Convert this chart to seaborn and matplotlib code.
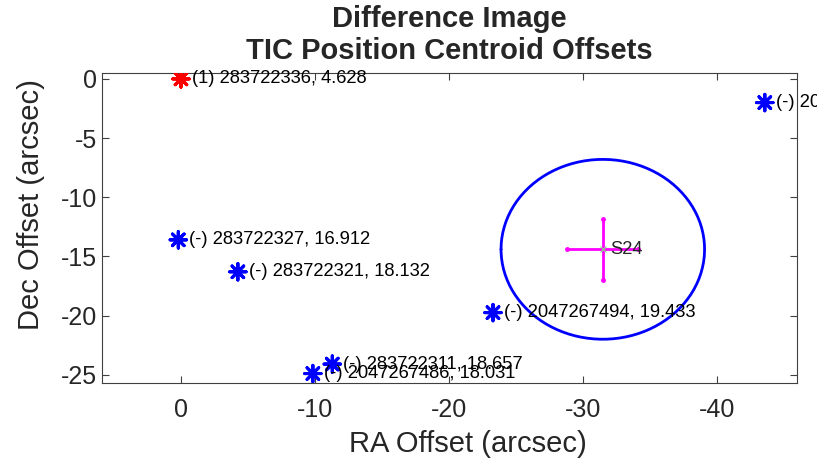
import numpy as np
import pandas as pd
import matplotlib
matplotlib.use("Agg")
import matplotlib.pyplot as plt
import seaborn as sns

# sources TIC (offsets en arcsec)
tic_labels = ["(1) 283722336, 4.628", "(-) 283722327, 16.912", "(-) 283722321, 18.132",
              "(-) 283722311, 18.657", "(-) 2047267486, 18.031", "(-) 2047267494, 19.433",
              "(-) 2047267503, 20.118"]
tic_ra = [0.0, 0.2, -4.25, -11.3, -9.85, -23.3, -43.6]
tic_dec = [0.0, -13.6, -16.3, -24.1, -24.9, -19.75, -2.0]
tic_kind = ["target", "other", "other", "other", "other", "other", "other"]

# centroide du secteur 24
sector_labels = ["S24"]
cent_ra = [-31.5]
cent_dec = [-14.4]
cent_err_ra = [2.65]
cent_err_dec = [2.6]
circle_radius = 7.6

df = pd.DataFrame({"ra": tic_ra, "dec": tic_dec, "kind": tic_kind, "label": tic_labels})

sns.set_theme(style="ticks")
plt.rcParams['font.family'] = ['Liberation Sans', 'DejaVu Sans']
plt.rcParams['axes.unicode_minus'] = False

fig = plt.figure(figsize=(8.17, 4.65), dpi=100)
ax = fig.add_axes([0.1248, 0.1763, 0.8507, 0.6667])

asterisk = (8, 2, 0)
sns.scatterplot(data=df, x="ra", y="dec", hue="kind", palette={"target": "red", "other": "blue"},
                marker=asterisk, s=140, linewidth=2.2, legend=False, ax=ax, zorder=3)
for r, d, lab in zip(tic_ra, tic_dec, tic_labels):
    ax.annotate(lab, (r, d), xytext=(8, 0), textcoords="offset points", fontsize=13.2,
                va="center", ha="left", color="black", annotation_clip=False)

# cercle autour du centroide
t = np.linspace(0, 2 * np.pi, 200)
ax.plot(cent_ra[0] + circle_radius * np.cos(t), cent_dec[0] + circle_radius * np.sin(t),
        color="blue", lw=2)
ax.errorbar(cent_ra, cent_dec, xerr=cent_err_ra, yerr=cent_err_dec, fmt="none",
            ecolor="magenta", elinewidth=2, capsize=0)
ax.plot([cent_ra[0] - cent_err_ra[0], cent_ra[0] + cent_err_ra[0], cent_ra[0], cent_ra[0]],
        [cent_dec[0], cent_dec[0], cent_dec[0] - cent_err_dec[0], cent_dec[0] + cent_err_dec[0]],
        ls="none", marker=".", ms=5, color="magenta")
ax.plot(cent_ra, cent_dec, marker="x", ms=4, color="#7fdf7f", ls="none", mew=0.8)
for r, d, lab in zip(cent_ra, cent_dec, sector_labels):
    ax.annotate(lab, (r, d), xytext=(5, 0), textcoords="offset points", fontsize=13.2,
                va="center", ha="left")

ax.set_xlim(5.9, -46)
ax.set_ylim(-25.7, 0.5)
ax.set_xticks([0, -10, -20, -30, -40])
ax.set_yticks([0, -5, -10, -15, -20, -25])
ax.tick_params(direction="in", top=True, right=True, labelsize=18, length=5,
               color="#404040", labelcolor="#262626", width=0.8)
ax.tick_params(axis="x", pad=11)
for sp in ax.spines.values():
    sp.set_color("#404040")
    sp.set_linewidth(0.8)
ax.set_xlabel("RA Offset (arcsec)", fontsize=21, color="#262626")
ax.set_ylabel("Dec Offset (arcsec)", fontsize=21, color="#262626")
ax.xaxis.set_label_coords(0.527, -0.15)
ax.yaxis.set_label_coords(-0.082, 0.577)
ax.set_title("Difference Image\nTIC Position Centroid Offsets", fontsize=21, fontweight="bold",
             linespacing=1.17, pad=10)

fig.savefig("out.png", dpi=100)
